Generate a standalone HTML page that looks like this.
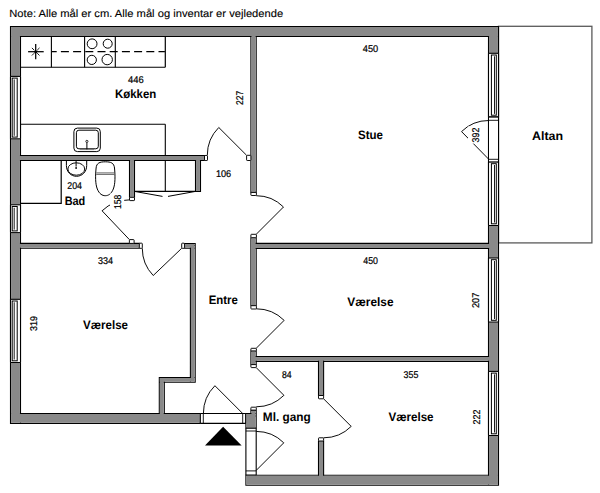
<!DOCTYPE html>
<html><head><meta charset="utf-8"><style>
html,body{margin:0;padding:0;background:#fff;}
svg{display:block;}
text{font-family:"Liberation Sans",sans-serif;fill:#000;text-rendering:geometricPrecision;}
text.r{stroke:#000;stroke-width:0.22;}
text.t{stroke:#000;stroke-width:0.12;}
</style></head><body>
<svg width="600" height="493" viewBox="0 0 600 493">
<rect x="498.50" y="26.30" width="93.40" height="216.60" fill="none" stroke="#5a5a5a" stroke-width="1.3"/>
<path d="M10.50,26.50H498.50V36.50H10.50ZM10.50,26.50H20.50V423.40H10.50ZM10.50,413.50H200.30V423.40H10.50ZM488.50,26.50H498.50V485.30H488.50ZM245.90,475.30H498.50V485.30H245.90ZM245.90,413.50H256.20V428.20H245.90ZM250.90,410.10H256.20V416.00H250.90ZM16.00,155.50H204.50V160.50H16.00ZM129.50,157.00H134.50V197.30H129.50ZM195.50,157.00H200.50V191.50H195.50ZM250.90,31.00H256.20V192.40H250.90ZM253.50,243.40H493.00V248.50H253.50ZM250.90,237.70H256.20V305.70H250.90ZM16.00,243.40H139.30V248.30H16.00ZM184.60,243.50H195.20V248.30H184.60ZM190.40,245.50H195.20V382.30H190.40ZM159.30,377.50H195.20V382.30H159.30ZM159.30,377.50H164.30V418.00H159.30ZM253.50,356.50H493.00V361.40H253.50ZM250.90,350.90H256.20V364.60H250.90ZM318.50,358.00H323.60V395.50H318.50ZM318.50,441.00H323.60V480.00H318.50Z" fill="none" stroke="#000" stroke-width="1.1"/>
<path d="M11.05,27.05H497.95V35.95H11.05ZM11.05,27.05H19.95V422.85H11.05ZM11.05,414.05H199.75V422.85H11.05ZM489.05,27.05H497.95V484.75H489.05ZM246.45,475.85H497.95V484.75H246.45ZM246.45,414.05H255.65V427.65H246.45ZM251.45,410.65H255.65V415.45H251.45ZM16.55,156.05H203.95V159.95H16.55ZM130.05,157.55H133.95V196.75H130.05ZM196.05,157.55H199.95V190.95H196.05ZM251.45,31.55H255.65V191.85H251.45ZM254.05,243.95H492.45V247.95H254.05ZM251.45,238.25H255.65V305.15H251.45ZM16.55,243.95H138.75V247.75H16.55ZM185.15,244.05H194.65V247.75H185.15ZM190.95,246.05H194.65V381.75H190.95ZM159.85,378.05H194.65V381.75H159.85ZM159.85,378.05H163.75V417.45H159.85ZM254.05,357.05H492.45V360.85H254.05ZM251.45,351.45H255.65V364.05H251.45ZM319.05,358.55H323.05V394.95H319.05ZM319.05,441.55H323.05V479.45H319.05Z" fill="#898989" fill-rule="nonzero"/>
<rect x="10.50" y="76.40" width="10.00" height="62.40" fill="#fff"/><line x1="10.50" y1="76.40" x2="10.50" y2="138.80" stroke="#000" stroke-width="1.1"/><line x1="20.50" y1="76.40" x2="20.50" y2="138.80" stroke="#000" stroke-width="1.1"/><line x1="10.50" y1="76.40" x2="20.50" y2="76.40" stroke="#000" stroke-width="1.1"/><line x1="10.50" y1="138.80" x2="20.50" y2="138.80" stroke="#000" stroke-width="1.0"/><rect x="12.20" y="78.10" width="5.00" height="59.00" fill="none" stroke="#000" stroke-width="1.0"/><line x1="14.20" y1="79.40" x2="14.20" y2="135.80" stroke="#000" stroke-width="0.9"/>
<rect x="10.50" y="204.80" width="10.00" height="27.80" fill="#fff"/><line x1="10.50" y1="204.80" x2="10.50" y2="232.60" stroke="#000" stroke-width="1.1"/><line x1="20.50" y1="204.80" x2="20.50" y2="232.60" stroke="#000" stroke-width="1.1"/><line x1="10.50" y1="204.80" x2="20.50" y2="204.80" stroke="#000" stroke-width="1.1"/><line x1="10.50" y1="232.60" x2="20.50" y2="232.60" stroke="#000" stroke-width="1.0"/><rect x="12.20" y="206.50" width="5.00" height="24.40" fill="none" stroke="#000" stroke-width="1.0"/><line x1="14.20" y1="207.80" x2="14.20" y2="229.60" stroke="#000" stroke-width="0.9"/>
<rect x="10.50" y="299.30" width="10.00" height="63.20" fill="#fff"/><line x1="10.50" y1="299.30" x2="10.50" y2="362.50" stroke="#000" stroke-width="1.1"/><line x1="20.50" y1="299.30" x2="20.50" y2="362.50" stroke="#000" stroke-width="1.1"/><line x1="10.50" y1="299.30" x2="20.50" y2="299.30" stroke="#000" stroke-width="1.1"/><line x1="10.50" y1="362.50" x2="20.50" y2="362.50" stroke="#000" stroke-width="1.0"/><rect x="12.20" y="301.00" width="5.00" height="59.80" fill="none" stroke="#000" stroke-width="1.0"/><line x1="14.20" y1="302.30" x2="14.20" y2="359.50" stroke="#000" stroke-width="0.9"/>
<rect x="488.50" y="53.30" width="10.00" height="63.60" fill="#fff"/><line x1="488.50" y1="53.30" x2="488.50" y2="116.90" stroke="#000" stroke-width="1.1"/><line x1="498.50" y1="53.30" x2="498.50" y2="116.90" stroke="#000" stroke-width="1.1"/><line x1="488.50" y1="53.30" x2="498.50" y2="53.30" stroke="#000" stroke-width="1.1"/><line x1="488.50" y1="116.90" x2="498.50" y2="116.90" stroke="#000" stroke-width="1.0"/><rect x="491.40" y="55.00" width="4.90" height="60.20" fill="none" stroke="#000" stroke-width="1.0"/><line x1="494.50" y1="56.30" x2="494.50" y2="113.90" stroke="#000" stroke-width="0.9"/>
<rect x="488.50" y="162.00" width="10.00" height="63.50" fill="#fff"/><line x1="488.50" y1="162.00" x2="488.50" y2="225.50" stroke="#000" stroke-width="1.1"/><line x1="498.50" y1="162.00" x2="498.50" y2="225.50" stroke="#000" stroke-width="1.1"/><line x1="488.50" y1="162.00" x2="498.50" y2="162.00" stroke="#000" stroke-width="1.1"/><line x1="488.50" y1="225.50" x2="498.50" y2="225.50" stroke="#000" stroke-width="1.0"/><rect x="491.40" y="163.70" width="4.90" height="60.10" fill="none" stroke="#000" stroke-width="1.0"/><line x1="494.50" y1="165.00" x2="494.50" y2="222.50" stroke="#000" stroke-width="0.9"/>
<rect x="488.50" y="258.00" width="10.00" height="64.00" fill="#fff"/><line x1="488.50" y1="258.00" x2="488.50" y2="322.00" stroke="#000" stroke-width="1.1"/><line x1="498.50" y1="258.00" x2="498.50" y2="322.00" stroke="#000" stroke-width="1.1"/><line x1="488.50" y1="258.00" x2="498.50" y2="258.00" stroke="#000" stroke-width="1.1"/><line x1="488.50" y1="322.00" x2="498.50" y2="322.00" stroke="#000" stroke-width="1.0"/><rect x="491.40" y="259.70" width="4.90" height="60.60" fill="none" stroke="#000" stroke-width="1.0"/><line x1="494.50" y1="261.00" x2="494.50" y2="319.00" stroke="#000" stroke-width="0.9"/>
<rect x="488.50" y="371.40" width="10.00" height="64.10" fill="#fff"/><line x1="488.50" y1="371.40" x2="488.50" y2="435.50" stroke="#000" stroke-width="1.1"/><line x1="498.50" y1="371.40" x2="498.50" y2="435.50" stroke="#000" stroke-width="1.1"/><line x1="488.50" y1="371.40" x2="498.50" y2="371.40" stroke="#000" stroke-width="1.1"/><line x1="488.50" y1="435.50" x2="498.50" y2="435.50" stroke="#000" stroke-width="1.0"/><rect x="491.40" y="373.10" width="4.90" height="60.70" fill="none" stroke="#000" stroke-width="1.0"/><line x1="494.50" y1="374.40" x2="494.50" y2="432.50" stroke="#000" stroke-width="0.9"/>
<rect x="204.50" y="155.50" width="3.00" height="5.00" fill="#fff" stroke="#000" stroke-width="0.95" rx="0.6"/>
<rect x="246.60" y="155.30" width="4.30" height="5.20" fill="#fff" stroke="#000" stroke-width="0.95" rx="0.6"/>
<rect x="250.90" y="192.40" width="5.50" height="3.10" fill="#fff" stroke="#000" stroke-width="0.95" rx="0.6"/>
<rect x="250.90" y="234.30" width="5.50" height="3.40" fill="#fff" stroke="#000" stroke-width="0.95" rx="0.6"/>
<rect x="250.90" y="305.70" width="5.50" height="3.30" fill="#fff" stroke="#000" stroke-width="0.95" rx="0.6"/>
<rect x="250.90" y="348.30" width="5.50" height="2.60" fill="#fff" stroke="#000" stroke-width="0.95" rx="0.6"/>
<rect x="250.90" y="364.60" width="5.40" height="3.00" fill="#fff" stroke="#000" stroke-width="0.95" rx="0.6"/>
<rect x="250.90" y="407.20" width="5.40" height="2.90" fill="#fff" stroke="#000" stroke-width="0.95" rx="0.6"/>
<rect x="318.50" y="395.50" width="5.10" height="3.30" fill="#fff" stroke="#000" stroke-width="0.95" rx="0.6"/>
<rect x="318.50" y="437.80" width="5.10" height="3.20" fill="#fff" stroke="#000" stroke-width="0.95" rx="0.6"/>
<rect x="129.50" y="197.30" width="5.00" height="3.30" fill="#fff" stroke="#000" stroke-width="0.95" rx="0.6"/>
<rect x="129.40" y="239.60" width="4.70" height="3.80" fill="#fff" stroke="#000" stroke-width="0.95" rx="0.6"/>
<rect x="139.30" y="243.20" width="3.00" height="5.10" fill="#fff" stroke="#000" stroke-width="0.95" rx="0.6"/>
<rect x="181.70" y="243.20" width="2.90" height="5.10" fill="#fff" stroke="#000" stroke-width="0.95" rx="0.6"/>
<rect x="488.50" y="116.90" width="10.00" height="45.10" fill="#fff"/>
<line x1="488.50" y1="116.90" x2="488.50" y2="162.00" stroke="#000" stroke-width="1.0"/>
<line x1="498.50" y1="116.90" x2="498.50" y2="162.00" stroke="#000" stroke-width="1.0"/>
<line x1="488.50" y1="117.00" x2="498.50" y2="117.00" stroke="#000" stroke-width="1.3"/>
<line x1="488.50" y1="120.30" x2="498.50" y2="120.30" stroke="#000" stroke-width="0.9"/>
<line x1="488.50" y1="159.30" x2="498.50" y2="159.30" stroke="#000" stroke-width="0.9"/>
<line x1="488.50" y1="161.80" x2="498.50" y2="161.80" stroke="#000" stroke-width="0.9"/>
<rect x="200.30" y="413.50" width="45.60" height="9.90" fill="#fff"/>
<line x1="200.30" y1="413.50" x2="245.90" y2="413.50" stroke="#000" stroke-width="1.1"/>
<line x1="200.30" y1="423.40" x2="245.90" y2="423.40" stroke="#000" stroke-width="1.1"/>
<line x1="200.30" y1="413.50" x2="200.30" y2="423.40" stroke="#000" stroke-width="1.1"/>
<line x1="203.30" y1="413.50" x2="203.30" y2="423.40" stroke="#000" stroke-width="0.9"/>
<line x1="242.70" y1="413.50" x2="242.70" y2="423.40" stroke="#000" stroke-width="0.9"/>
<line x1="245.60" y1="413.50" x2="245.60" y2="423.40" stroke="#000" stroke-width="1.0"/>
<rect x="245.90" y="428.20" width="10.30" height="47.10" fill="#fff"/>
<line x1="245.90" y1="428.20" x2="245.90" y2="475.30" stroke="#000" stroke-width="1.1"/>
<line x1="256.20" y1="428.20" x2="256.20" y2="475.30" stroke="#000" stroke-width="1.1"/>
<line x1="245.90" y1="428.20" x2="256.20" y2="428.20" stroke="#000" stroke-width="1.1"/>
<line x1="245.90" y1="431.00" x2="256.20" y2="431.00" stroke="#000" stroke-width="0.9"/>
<line x1="245.90" y1="470.90" x2="256.20" y2="470.90" stroke="#000" stroke-width="0.9"/>
<line x1="245.90" y1="475.00" x2="256.20" y2="475.00" stroke="#000" stroke-width="1.0"/>
<path d="M207.30,155.20 A39.20,39.20 0 0 1 218.78,127.48" stroke="#000" stroke-width="0.95" fill="none"/><line x1="246.50" y1="155.20" x2="218.78" y2="127.48" stroke="#000" stroke-width="0.95"/>
<path d="M256.20,195.70 A38.60,38.60 0 0 1 283.49,207.01" stroke="#000" stroke-width="0.95" fill="none"/><line x1="256.20" y1="234.30" x2="283.49" y2="207.01" stroke="#000" stroke-width="0.95"/>
<path d="M256.20,308.80 A39.50,39.50 0 0 1 284.13,320.37" stroke="#000" stroke-width="0.95" fill="none"/><line x1="256.20" y1="348.30" x2="284.13" y2="320.37" stroke="#000" stroke-width="0.95"/>
<path d="M256.20,406.80 A39.20,39.20 0 0 0 283.92,395.32" stroke="#000" stroke-width="0.95" fill="none"/><line x1="256.20" y1="367.60" x2="283.92" y2="395.32" stroke="#000" stroke-width="0.95"/>
<path d="M323.60,437.80 A39.00,39.00 0 0 0 351.18,426.38" stroke="#000" stroke-width="0.95" fill="none"/><line x1="323.60" y1="398.80" x2="351.18" y2="426.38" stroke="#000" stroke-width="0.95"/>
<path d="M256.20,431.40 A39.00,39.00 0 0 1 283.78,442.82" stroke="#000" stroke-width="0.95" fill="none"/><line x1="256.20" y1="470.40" x2="283.78" y2="442.82" stroke="#000" stroke-width="0.95"/>
<path d="M203.40,413.50 A39.30,39.30 0 0 1 214.91,385.71" stroke="#000" stroke-width="0.95" fill="none"/><line x1="242.70" y1="413.50" x2="214.91" y2="385.71" stroke="#000" stroke-width="0.95"/>
<path d="M142.30,248.30 A39.40,39.40 0 0 0 153.22,275.52" stroke="#000" stroke-width="0.95" fill="none"/><line x1="181.70" y1="248.30" x2="153.22" y2="275.52" stroke="#000" stroke-width="0.95"/>
<path d="M129.40,199.90 A39.70,39.70 0 0 0 102.07,210.80" stroke="#000" stroke-width="0.95" fill="none"/><line x1="129.40" y1="239.60" x2="102.07" y2="210.80" stroke="#000" stroke-width="0.95"/>
<path d="M488.60,120.50 A38.60,38.60 0 0 0 461.54,131.57" stroke="#000" stroke-width="0.95" fill="none"/><line x1="488.60" y1="159.10" x2="461.54" y2="131.57" stroke="#000" stroke-width="0.95"/>
<line x1="134.50" y1="191.35" x2="195.50" y2="191.35" stroke="#000" stroke-width="1.1"/>
<line x1="165.30" y1="124.25" x2="165.30" y2="156.00" stroke="#000" stroke-width="1.1"/>
<line x1="165.30" y1="160.00" x2="165.30" y2="191.35" stroke="#000" stroke-width="1.1"/>
<line x1="134.50" y1="191.40" x2="162.50" y2="196.40" stroke="#000" stroke-width="1.0"/>
<line x1="168.00" y1="196.40" x2="195.50" y2="191.40" stroke="#000" stroke-width="1.0"/>
<line x1="20.50" y1="67.25" x2="165.30" y2="67.25" stroke="#000" stroke-width="1.2"/>
<line x1="165.30" y1="36.50" x2="165.30" y2="67.25" stroke="#000" stroke-width="1.2"/>
<line x1="51.40" y1="36.50" x2="51.40" y2="67.25" stroke="#000" stroke-width="1.1"/>
<line x1="84.60" y1="36.50" x2="84.60" y2="67.25" stroke="#000" stroke-width="1.1"/>
<line x1="115.30" y1="36.50" x2="115.30" y2="67.25" stroke="#000" stroke-width="1.1"/>
<line x1="51.9" y1="51.6" x2="164.9" y2="51.6" stroke="#000" stroke-width="1.25" stroke-dasharray="8 4.2" stroke-dashoffset="3.2"/>
<circle cx="92.1" cy="43.8" r="4.9" fill="none" stroke="#000" stroke-width="1.0"/>
<circle cx="107.7" cy="43.7" r="4.5" fill="none" stroke="#000" stroke-width="1.0"/>
<circle cx="91.8" cy="59.9" r="4.6" fill="none" stroke="#000" stroke-width="1.0"/>
<circle cx="107.2" cy="59.6" r="5.2" fill="none" stroke="#000" stroke-width="1.0"/>
<line x1="28.10" y1="51.70" x2="43.70" y2="51.70" stroke="#000" stroke-width="1.25"/>
<line x1="35.70" y1="44.10" x2="35.70" y2="59.20" stroke="#000" stroke-width="1.25"/>
<line x1="31.90" y1="47.90" x2="34.20" y2="50.20" stroke="#000" stroke-width="0.9"/>
<line x1="37.20" y1="53.20" x2="39.50" y2="55.50" stroke="#000" stroke-width="0.9"/>
<line x1="39.50" y1="47.90" x2="37.20" y2="50.20" stroke="#000" stroke-width="0.9"/>
<line x1="34.20" y1="53.20" x2="31.90" y2="55.50" stroke="#000" stroke-width="0.9"/>
<circle cx="35.7" cy="51.7" r="1.5" fill="#000"/>
<line x1="20.50" y1="124.25" x2="165.30" y2="124.25" stroke="#000" stroke-width="1.2"/>
<rect x="73.90" y="128.10" width="26.40" height="23.50" fill="none" stroke="#000" stroke-width="1.0" rx="3.5"/>
<rect x="76.40" y="130.20" width="21.90" height="18.60" fill="none" stroke="#000" stroke-width="1.0" rx="2.5"/>
<circle cx="86.9" cy="141.4" r="1.1" fill="none" stroke="#000" stroke-width="0.8"/>
<line x1="86.90" y1="142.50" x2="86.90" y2="149.50" stroke="#000" stroke-width="1.0"/>
<line x1="80.00" y1="149.60" x2="94.00" y2="149.60" stroke="#555" stroke-width="0.6"/>
<path d="M20.5,203.3 L61.2,203.3 L61.2,160.5" stroke="#000" stroke-width="1.2" fill="none"/>
<path d="M66.4,160.5 L66.4,165.5 C66.4,172 71,176.3 76.5,176.3 C82,176.3 86.7,172 86.7,165.5 L86.7,160.5" stroke="#000" stroke-width="1.0" fill="none"/>
<ellipse cx="76.3" cy="169.0" rx="8.4" ry="6.2" fill="none" stroke="#000" stroke-width="0.95"/>
<line x1="76.10" y1="161.00" x2="76.10" y2="166.60" stroke="#000" stroke-width="1.0"/>
<circle cx="76.1" cy="168.0" r="0.9" fill="#000"/>
<path d="M105.3,161.8 C111,161.8 114,163 114.5,168 C115.3,176 115.3,184 113.3,189 C111.3,194 108.3,195.7 105.3,195.7 C102.3,195.7 99.3,194 97.3,189 C95.3,184 95.3,176 96.1,168 C96.6,163 99.6,161.8 105.3,161.8 Z" stroke="#000" stroke-width="1.0" fill="none"/>
<line x1="96.30" y1="172.90" x2="114.40" y2="172.90" stroke="#555" stroke-width="0.9"/>
<line x1="96.20" y1="174.40" x2="114.50" y2="174.40" stroke="#555" stroke-width="0.9"/>
<polygon points="223.1,426.8 241.6,445.5 205,445.5" fill="#000"/>
<text class="t" x="9.30" y="16.80" font-size="10.6" textLength="273.90" lengthAdjust="spacingAndGlyphs">Note: Alle mål er cm. Alle mål og inventar er vejledende</text>
<text class="r" x="128.00" y="82.50" font-size="9.8" textLength="15.70" lengthAdjust="spacingAndGlyphs">446</text>
<text x="115.00" y="98.30" font-size="12.2" font-weight="bold" textLength="41.30" lengthAdjust="spacingAndGlyphs">Køkken</text>
<text class="r" transform="translate(243.00,105.00) rotate(-90)" x="0" y="0" font-size="9.8" textLength="14.30" lengthAdjust="spacingAndGlyphs">227</text>
<text class="r" x="215.90" y="177.30" font-size="9.8" textLength="15.30" lengthAdjust="spacingAndGlyphs">106</text>
<text class="r" x="67.30" y="188.60" font-size="9.8" textLength="14.70" lengthAdjust="spacingAndGlyphs">204</text>
<text x="64.70" y="205.40" font-size="12.2" font-weight="bold" textLength="20.60" lengthAdjust="spacingAndGlyphs">Bad</text>
<rect x="110.00" y="193.50" width="14.20" height="16.70" fill="#fff"/><text class="r" transform="translate(120.70,209.00) rotate(-90)" x="0" y="0" font-size="9.8" textLength="14.30" lengthAdjust="spacingAndGlyphs">158</text>
<text class="r" x="362.80" y="52.20" font-size="9.8" textLength="15.40" lengthAdjust="spacingAndGlyphs">450</text>
<text x="358.00" y="139.20" font-size="12.2" font-weight="bold" textLength="25.00" lengthAdjust="spacingAndGlyphs">Stue</text>
<rect x="468.00" y="126.40" width="14.90" height="17.20" fill="#fff"/><text class="r" transform="translate(479.40,142.40) rotate(-90)" x="0" y="0" font-size="9.8" textLength="14.80" lengthAdjust="spacingAndGlyphs">392</text>
<text x="532.00" y="139.60" font-size="12.2" font-weight="bold" textLength="31.00" lengthAdjust="spacingAndGlyphs">Altan</text>
<text class="r" x="98.00" y="263.60" font-size="9.8" textLength="15.00" lengthAdjust="spacingAndGlyphs">334</text>
<text class="r" transform="translate(37.00,331.00) rotate(-90)" x="0" y="0" font-size="9.8" textLength="15.00" lengthAdjust="spacingAndGlyphs">319</text>
<text x="83.00" y="329.40" font-size="12.2" font-weight="bold" textLength="45.00" lengthAdjust="spacingAndGlyphs">Værelse</text>
<text x="208.75" y="303.50" font-size="12.2" font-weight="bold" textLength="29.15" lengthAdjust="spacingAndGlyphs">Entre</text>
<text class="r" x="363.30" y="263.90" font-size="9.8" textLength="14.70" lengthAdjust="spacingAndGlyphs">450</text>
<text x="347.30" y="306.00" font-size="12.2" font-weight="bold" textLength="46.20" lengthAdjust="spacingAndGlyphs">Værelse</text>
<text class="r" transform="translate(479.30,308.10) rotate(-90)" x="0" y="0" font-size="9.8" textLength="15.40" lengthAdjust="spacingAndGlyphs">207</text>
<text class="r" x="282.00" y="377.80" font-size="9.8" textLength="9.60" lengthAdjust="spacingAndGlyphs">84</text>
<text x="262.80" y="421.00" font-size="12.2" font-weight="bold" textLength="47.90" lengthAdjust="spacingAndGlyphs">Ml. gang</text>
<text class="r" x="403.60" y="378.00" font-size="9.8" textLength="14.80" lengthAdjust="spacingAndGlyphs">355</text>
<text x="388.40" y="421.00" font-size="12.2" font-weight="bold" textLength="45.20" lengthAdjust="spacingAndGlyphs">Værelse</text>
<text class="r" transform="translate(479.60,424.40) rotate(-90)" x="0" y="0" font-size="9.8" textLength="14.80" lengthAdjust="spacingAndGlyphs">222</text>
</svg>
</body></html>
